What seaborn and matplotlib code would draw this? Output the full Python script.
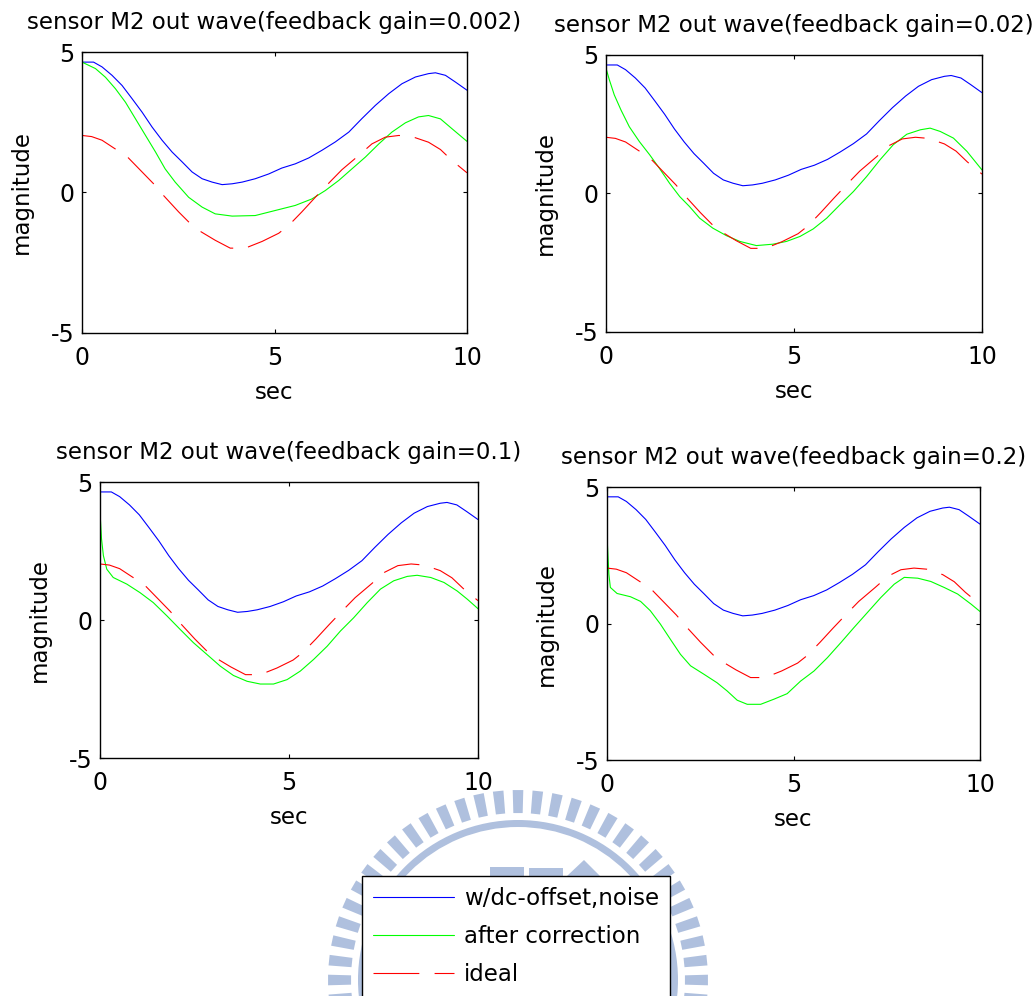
import matplotlib
matplotlib.use("Agg")
import matplotlib.pyplot as plt
import seaborn as sns
import numpy as np
from matplotlib.patches import Polygon, Wedge

# ---------------- data ----------------
titles = ["sensor M2 out wave(feedback gain=0.002)",
          "sensor M2 out wave(feedback gain=0.02)",
          "sensor M2 out wave(feedback gain=0.1)",
          "sensor M2 out wave(feedback gain=0.2)"]
legend_labels = ["w/dc-offset,noise", "after correction", "ideal"]
x_ticks = [0, 5, 10]
y_ticks = [-5, 0, 5]

# measured signal with dc offset and noise (same in every panel)
t_noisy = [0, 0.30, 0.52, 0.78, 1.04, 1.30, 1.56, 1.82, 2.08, 2.34, 2.60, 2.86, 3.12,
           3.38, 3.64, 3.90, 4.16, 4.50, 4.85, 5.19, 5.54, 5.89, 6.23, 6.58, 6.93,
           7.27, 7.62, 7.97, 8.31, 8.66, 9.0, 9.18, 9.44, 9.70, 10]
v_noisy = [4.64, 4.64, 4.47, 4.17, 3.81, 3.34, 2.86, 2.33, 1.86, 1.44, 1.09, 0.73, 0.49,
           0.37, 0.28, 0.31, 0.37, 0.49, 0.66, 0.87, 1.02, 1.23, 1.50, 1.80, 2.15,
           2.63, 3.10, 3.52, 3.87, 4.11, 4.23, 4.26, 4.17, 3.93, 3.64]

# ideal signal (same in every panel)
t_ideal = [0, 0.25, 0.52, 0.82, 1.17, 1.86, 2.12, 2.51, 2.86, 3.07, 3.46, 3.85, 4.24,
           4.68, 5.11, 5.37, 5.71, 6.06, 6.45, 6.75, 7.19, 7.53, 7.88, 8.23, 8.57,
           9.0, 9.31, 9.61, 10]
v_ideal = [2.03, 1.99, 1.86, 1.59, 1.28, 0.31, -0.11, -0.69, -1.17, -1.38, -1.70, -1.98, -1.98,
           -1.74, -1.45, -1.17, -0.69, -0.17, 0.39, 0.81, 1.32, 1.73, 1.97, 2.03, 1.99,
           1.79, 1.53, 1.14, 0.70]

# after correction, one per feedback gain
t_corr_1 = [0, 0.35, 0.61, 0.87, 1.13, 1.39, 1.65, 1.91, 2.16, 2.42, 2.77, 3.12, 3.46,
            3.90, 4.50, 5.02, 5.54, 5.97, 6.32, 6.67, 7.01, 7.36, 7.71, 8.05, 8.40,
            8.74, 9.0, 9.31, 9.61, 10]
v_corr_1 = [4.64, 4.41, 4.10, 3.69, 3.21, 2.62, 2.03, 1.44, 0.84, 0.37, -0.17, -0.52, -0.76,
            -0.84, -0.82, -0.64, -0.46, -0.23, 0.07, 0.43, 0.84, 1.26, 1.73, 2.15, 2.48,
            2.69, 2.74, 2.62, 2.27, 1.82]

t_corr_2 = [0, 0.09, 0.22, 0.40, 0.62, 0.89, 1.16, 1.42, 1.69, 1.96, 2.22, 2.49, 2.84,
            3.20, 3.56, 4.0, 4.44, 4.80, 5.16, 5.51, 5.87, 6.22, 6.58, 6.93, 7.29,
            7.64, 8.0, 8.36, 8.62, 8.89, 9.24, 9.6, 10]
v_corr_2 = [4.52, 4.10, 3.56, 3.01, 2.41, 1.87, 1.40, 0.91, 0.37, -0.11, -0.47, -0.89, -1.25,
            -1.52, -1.73, -1.88, -1.83, -1.73, -1.55, -1.28, -0.89, -0.41, 0.07, 0.61, 1.22,
            1.76, 2.14, 2.30, 2.36, 2.24, 2.0, 1.52, 0.85]

t_corr_3 = [0, 0.04, 0.09, 0.18, 0.35, 0.71, 1.06, 1.41, 1.77, 2.12, 2.47, 2.83, 3.18,
            3.53, 3.89, 4.24, 4.59, 4.95, 5.30, 5.65, 6.01, 6.36, 6.71, 7.07, 7.42,
            7.77, 8.13, 8.39, 8.75, 9.10, 9.45, 9.72, 10]
v_corr_3 = [3.91, 2.94, 2.33, 1.84, 1.54, 1.30, 0.99, 0.63, 0.15, -0.34, -0.82, -1.25, -1.67,
            -2.01, -2.22, -2.32, -2.32, -2.16, -1.85, -1.43, -0.95, -0.40, 0.08, 0.63, 1.12,
            1.42, 1.58, 1.62, 1.54, 1.36, 1.05, 0.75, 0.41]

t_corr_4 = [0, 0.03, 0.05, 0.09, 0.27, 0.63, 0.90, 1.16, 1.43, 1.70, 1.97, 2.24, 2.60,
            2.95, 3.22, 3.49, 3.76, 4.12, 4.48, 4.83, 5.19, 5.55, 5.91, 6.27, 6.62,
            6.98, 7.34, 7.70, 7.97, 8.33, 8.68, 9.04, 9.40, 9.76, 10]
v_corr_4 = [3.22, 2.36, 1.81, 1.32, 1.10, 0.98, 0.81, 0.47, -0.02, -0.58, -1.13, -1.55, -1.86,
            -2.17, -2.47, -2.81, -2.96, -2.96, -2.77, -2.57, -2.11, -1.74, -1.25, -0.70, -0.15,
            0.40, 0.95, 1.44, 1.69, 1.66, 1.54, 1.32, 1.08, 0.71, 0.44]

corr_t = [t_corr_1, t_corr_2, t_corr_3, t_corr_4]
corr_v = [v_corr_1, v_corr_2, v_corr_3, v_corr_4]

# ---------------- style ----------------
sns.set_theme(style="ticks")
plt.rcParams["font.family"] = ["DejaVu Sans"]
plt.rcParams["axes.unicode_minus"] = False
plt.rcParams["lines.scale_dashes"] = False
plt.rcParams["axes.edgecolor"] = "black"
plt.rcParams["text.color"] = "black"
plt.rcParams["axes.labelcolor"] = "black"
plt.rcParams["xtick.color"] = "black"
plt.rcParams["ytick.color"] = "black"

BLUE, GREEN, RED = "#0000FF", "#00FF00", "#FF0000"
W, H = 1032, 996
fig = plt.figure(figsize=(W / 100, H / 100), dpi=100)

# watermark (university emblem) in pixel coordinates, behind everything
wm = fig.add_axes([0, 0, 1, 1], zorder=-1)
wm.set_xlim(0, W)
wm.set_ylim(H, 0)
wm.set_axis_off()
wm_col = "#AFC0DE"
cx, cy = 518, 980
for k in range(60):
    a = np.deg2rad(90 + 6 * k)
    h = np.deg2rad(1.6)
    r0, r1 = 167, 190
    pts = [(cx + r0 * np.cos(a - h), cy - r0 * np.sin(a - h)),
           (cx + r1 * np.cos(a - h), cy - r1 * np.sin(a - h)),
           (cx + r1 * np.cos(a + h), cy - r1 * np.sin(a + h)),
           (cx + r0 * np.cos(a + h), cy - r0 * np.sin(a + h))]
    wm.add_patch(Polygon(pts, closed=True, color=wm_col, lw=0))
wm.add_patch(Wedge((cx, cy), 160, 0, 360, width=7, color=wm_col, lw=0))
wm.add_patch(Polygon([(490, 867), (524, 867), (524, 880), (490, 880)], color=wm_col, lw=0))
wm.add_patch(Polygon([(529, 868), (563, 868), (563, 880), (529, 880)], color=wm_col, lw=0))
wm.add_patch(Polygon([(567, 876), (584, 860), (600, 876)], color=wm_col, lw=0))

# axes rectangles in pixels: left, top, right, bottom
boxes = [(82, 52, 467, 333), (606, 55, 982, 332),
         (100, 482, 478, 758), (607, 487, 980, 760)]

FS = 16.5
axes = []
for i, (l, tp, r, b) in enumerate(boxes):
    ax = fig.add_axes([l / W, 1 - b / H, (r - l) / W, (b - tp) / H])
    sns.lineplot(x=t_noisy, y=v_noisy, ax=ax, color=BLUE, linewidth=0.8,
                 estimator=None, sort=False)
    sns.lineplot(x=corr_t[i], y=corr_v[i], ax=ax, color=GREEN, linewidth=0.8,
                 estimator=None, sort=False)
    sns.lineplot(x=t_ideal, y=v_ideal, ax=ax, color=RED, linewidth=0.8,
                 estimator=None, sort=False)
    ax.lines[-1].set_dashes((26.6, 10.8))
    ax.set_xlim(0, 10)
    ax.set_ylim(-5, 5)
    ax.set_xticks(x_ticks)
    ax.set_yticks(y_ticks)
    ax.tick_params(direction="in", length=3, width=0.8, labelsize=17,
                   top=True, right=True)
    ax.tick_params(axis="x", pad=9.3)
    ax.tick_params(axis="y", pad=5.5)
    for s in ax.spines.values():
        s.set_visible(True)
        s.set_linewidth(1.0)
        s.set_color("black")
    ax.set_title(titles[i], fontsize=FS, pad=16.6)
    ax.set_xlabel("sec", fontsize=FS, labelpad=8)
    ax.set_ylabel("magnitude", fontsize=FS, labelpad=13)
    axes.append(ax)

leg = fig.legend(handles=axes[0].lines[:3], labels=legend_labels,
                 loc="upper left", bbox_to_anchor=(362 / W, 1 - 876 / H),
                 borderaxespad=0, fontsize=FS, frameon=True, fancybox=False,
                 framealpha=1, edgecolor="black", handlelength=3.5,
                 handletextpad=0.44, borderpad=0.5, labelspacing=0.64)
leg.get_frame().set_linewidth(1.0)
leg.get_lines()[2].set_dashes((33, 11))

fig.savefig("out.png", dpi=100)
